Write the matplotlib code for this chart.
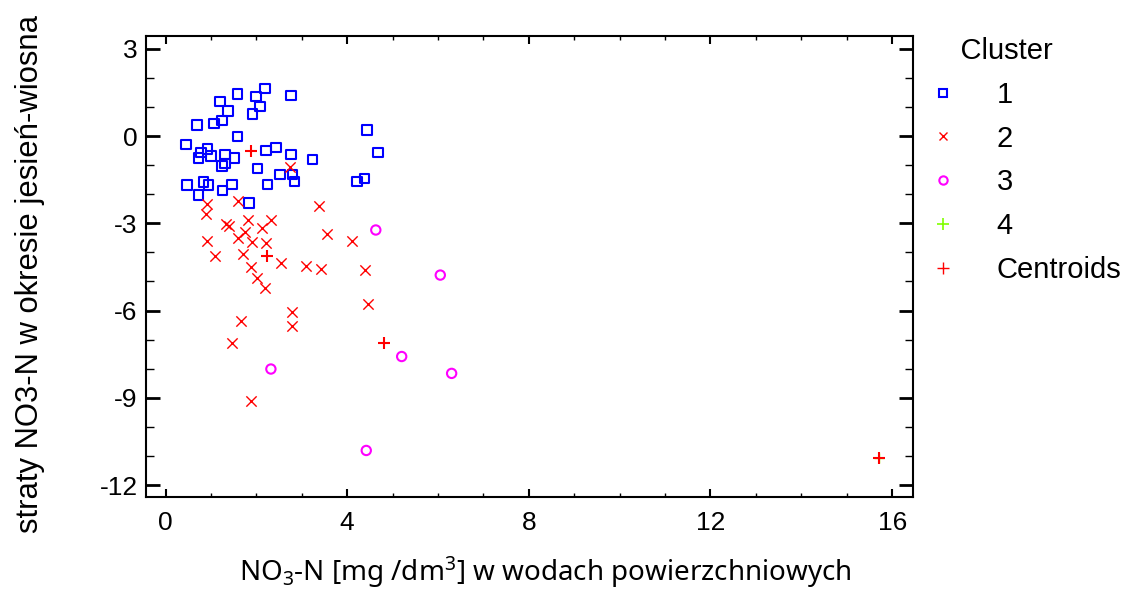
import matplotlib.pyplot as plt
from matplotlib.lines import Line2D
from matplotlib.ticker import MultipleLocator

plt.rcParams["font.family"] = ["Liberation Sans", "DejaVu Sans"]
plt.rcParams["axes.unicode_minus"] = False
plt.rcParams["mathtext.fontset"] = "custom"
plt.rcParams["mathtext.rm"] = "Noto Sans"
plt.rcParams["mathtext.it"] = "Noto Sans:italic"

# cluster 1 (blue squares)
c1_x = [1.59, 2.19, 2.76, 1.20, 1.99, 2.08, 1.38, 1.91, 0.69, 1.07, 1.24,
        1.59, 0.45, 0.92, 0.78, 0.72, 1.00, 1.31, 1.52, 1.24, 1.31, 2.02,
        2.21, 2.43, 2.76, 3.23, 2.52, 2.80, 2.84, 0.47, 0.83, 0.94, 1.46,
        2.24, 1.26, 0.72, 1.84, 4.44, 4.68, 4.38, 4.22]
c1_y = [1.45, 1.64, 1.40, 1.19, 1.35, 1.02, 0.86, 0.76, 0.38, 0.44, 0.54,
        -0.01, -0.29, -0.44, -0.57, -0.75, -0.68, -0.64, -0.75, -1.03, -0.94, -1.12,
        -0.49, -0.39, -0.63, -0.80, -1.32, -1.32, -1.57, -1.69, -1.58, -1.69, -1.66,
        -1.66, -1.87, -2.03, -2.30, 0.21, -0.56, -1.45, -1.57]

# cluster 2 (red crosses)
c2_x = [2.74, 0.91, 1.60, 3.37, 0.89, 1.33, 1.40, 1.82, 2.32, 2.13, 3.55,
        0.92, 1.60, 1.75, 1.90, 2.21, 1.09, 1.71, 2.54, 3.09, 3.42, 1.88,
        2.02, 2.19, 2.78, 2.78, 1.66, 1.47, 1.88, 4.10, 4.39, 4.45]
c2_y = [-1.08, -2.34, -2.23, -2.41, -2.69, -3.02, -3.09, -2.89, -2.89, -3.17, -3.37,
        -3.61, -3.52, -3.31, -3.63, -3.69, -4.12, -4.05, -4.37, -4.47, -4.58, -4.51,
        -4.87, -5.24, -6.06, -6.52, -6.36, -7.12, -9.11, -3.60, -4.61, -5.78]

# cluster 3 (magenta circles)
c3_x = [4.63, 6.05, 5.20, 6.30, 2.32, 4.42]
c3_y = [-3.23, -4.78, -7.58, -8.16, -8.01, -10.81]

# cluster 4 (green plus)
c4_x = [15.72]
c4_y = [-11.08]

# centroids
cent_x = [1.88, 2.23, 4.82, 15.72]
cent_y = [-0.51, -4.14, -7.11, -11.08]

legend_labels = ["1", "2", "3", "4", "Centroids"]

blue = "#0000ff"
red = "#ff0000"
magenta = "#ff00ff"
green = "#80ff00"

fig = plt.figure(figsize=(11.24, 5.89), dpi=100)
ax = fig.add_axes([0.1299, 0.1557, 0.6824, 0.7832])

ax.scatter(c1_x, c1_y, marker="s", s=46, facecolors="none", edgecolors=blue, linewidths=1.5)
ax.scatter(c2_x, c2_y, marker="x", s=55, c=red, linewidths=1.0)
ax.scatter(c3_x, c3_y, marker="o", s=45, facecolors="none", edgecolors=magenta, linewidths=1.5)
ax.scatter(c4_x, c4_y, marker="+", s=60, c=green, linewidths=1.0)
ax.scatter(cent_x, cent_y, marker="+", s=80, c=red, linewidths=1.5)

ax.set_xlim(-0.43, 16.46)
ax.set_ylim(-12.42, 3.44)
ax.xaxis.set_major_locator(MultipleLocator(4))
ax.xaxis.set_minor_locator(MultipleLocator(1))
ax.yaxis.set_major_locator(MultipleLocator(3))
ax.yaxis.set_minor_locator(MultipleLocator(1))

for spine in ax.spines.values():
    spine.set_linewidth(1.5)
ax.tick_params(which="both", direction="in", top=True, right=True)
ax.tick_params(axis="x", which="major", length=6, width=1.5, pad=10, labelsize=19)
ax.tick_params(axis="x", which="minor", length=3, width=1)
ax.tick_params(axis="y", which="major", length=10, width=2, pad=6, labelsize=19)
ax.tick_params(axis="y", which="minor", length=6, width=1)

fig.text(0.027, 0.535, "straty NO3-N w okresie jesień-wiosna", rotation=90,
         ha="center", va="center", fontsize=22.3)
fig.text(0.485, 0.029, r"NO$_3$-N [mg /dm$^3$] w wodach powierzchniowych",
         ha="center", va="center", fontsize=20, family="Noto Sans")

handles = [
    Line2D([], [], linestyle="none", marker="s", markersize=6, markerfacecolor="none",
           markeredgecolor=blue, markeredgewidth=1.5),
    Line2D([], [], linestyle="none", marker="x", markersize=6, color=red, markeredgewidth=1.0),
    Line2D([], [], linestyle="none", marker="o", markersize=6, markerfacecolor="none",
           markeredgecolor=magenta, markeredgewidth=1.5),
    Line2D([], [], linestyle="none", marker="+", markersize=8, color=green, markeredgewidth=1.2),
    Line2D([], [], linestyle="none", marker="+", markersize=8, color=red, markeredgewidth=1.0),
]
fig.legend(handles, legend_labels, loc="upper left", bbox_to_anchor=(0.8256, 0.937),
           frameon=False, title="    Cluster", fontsize=21, title_fontsize=21,
           alignment="left", handlelength=1.0, handletextpad=1.36, labelspacing=0.54,
           borderpad=0, borderaxespad=0)

fig.savefig("out.png", dpi=100)
